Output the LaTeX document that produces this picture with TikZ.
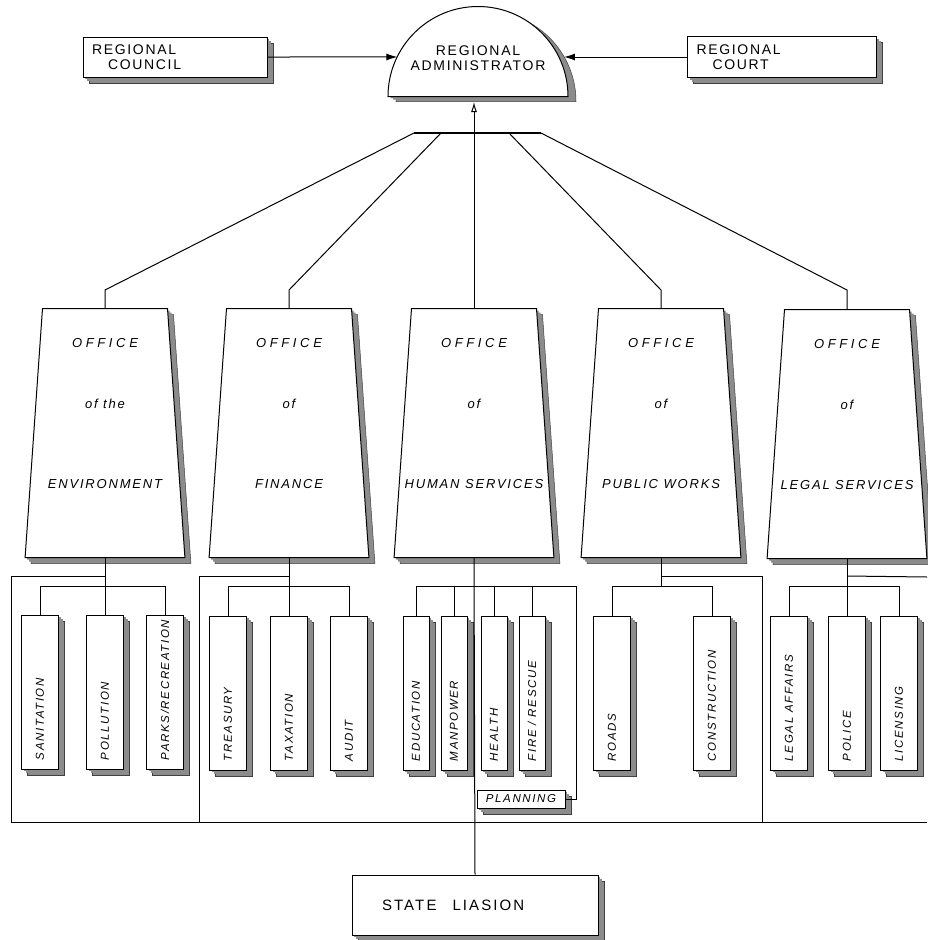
\documentclass[tikz,border=0pt]{standalone}
\usepackage{fontspec}
\usepackage{tikz}
\usetikzlibrary{arrows.meta,positioning,calc,shapes.geometric,shadows}
\newfontfamily\letra[LetterSpace=12]{Liberation Sans}
\newfontfamily\letraesp[LetterSpace=28]{Liberation Sans}
\newfontfamily\letramed[LetterSpace=14]{Liberation Sans}
\newfontfamily\letrasetor[LetterSpace=14]{Liberation Sans}

\begin{document}
\begin{tikzpicture}[x=1pt, y=-1pt, line width=1pt,
sombra/.style={general shadow={fill=black!45, draw=black!75, line width=0.5pt, shadow xshift=6pt, shadow yshift=-6pt}, general shadow={fill=black!45, draw=none, shadow xshift=4pt, shadow yshift=-4pt}, general shadow={fill=black!45, draw=none, shadow xshift=2pt, shadow yshift=-2pt}},
caixa/.style={draw, fill=white, sombra, align=left, inner xsep=9pt, font=\letra\fontsize{14}{15}\selectfont},
cupula/.style={shape=semicircle, draw, fill=white, minimum width=180pt, inner sep=0pt, general shadow={fill=black!45, draw=black!75, line width=0.5pt, shadow xshift=8pt, shadow yshift=-5pt}, general shadow={fill=black!45, draw=none, shadow xshift=5pt, shadow yshift=-3pt}, general shadow={fill=black!45, draw=none, shadow xshift=2.5pt, shadow yshift=-1.5pt}},
escritorio/.style={shape=trapezium, trapezium left angle=86, trapezium right angle=86, inner xsep=62.5pt, inner ysep=0pt, draw, fill=white, sombra},
titulo/.style={font=\letraesp\itshape\fontsize{13}{15}\selectfont},
rotulo/.style={font=\letramed\itshape\fontsize{13}{15}\selectfont},
setor/.style={draw, fill=white, sombra, minimum width=37pt, minimum height=154pt, inner sep=0pt},
estreito/.style={setor, minimum width=26pt},
nome/.style={rotate=90, anchor=west, inner sep=1pt, font=\letrasetor\itshape\fontsize{11.5}{13}\selectfont},
seta/.style={-{Latex[length=11pt, width=7pt]}},
seta aberta/.style={-{Latex[open, length=10pt, width=6pt]}},
barra/.style={line width=2pt}
]
\useasboundingbox (0,0) rectangle (927,940);

% topo
\node[caixa, text width=166pt, minimum height=40pt] (conselho) at (175,57) {REGIONAL\\\hspace*{16pt}COUNCIL};
\node[cupula, anchor=chord center] (administrador) at (478,97) {};
\node[align=center, font=\letra\fontsize{14}{15}\selectfont] (administrador-t) at (478,58) {REGIONAL\\ADMINISTRATOR};
\node[caixa, text width=171pt, minimum height=41pt] (tribunal) at (782,57) {REGIONAL\\\hspace*{16pt}COURT};
\coordinate (administrador-base) at ([yshift=-5pt]administrador.chord center);

\draw[seta] (conselho.east) -- ($(administrador.chord center)+(153.6:90pt)$);
\draw[seta] (tribunal.west) -- ($(administrador.chord center)+(8pt,-5pt)+(30:90pt)$);

% escritorios
\node[escritorio] (ambiente) at (105,433) {\rule{0pt}{249pt}};
\node[titulo] (ambiente-1) at ([yshift=-35pt]ambiente.north) {OFFICE};
\node[rotulo] (ambiente-2) at ([yshift=-96pt]ambiente.north) {of the};
\node[rotulo] (ambiente-3) at ([yshift=-176pt]ambiente.north) {ENVIRONMENT};

\node[escritorio] (financas) at (289,433) {\rule{0pt}{249pt}};
\node[titulo] (financas-1) at ([yshift=-35pt]financas.north) {OFFICE};
\node[rotulo] (financas-2) at ([yshift=-96pt]financas.north) {of};
\node[rotulo] (financas-3) at ([yshift=-176pt]financas.north) {FINANCE};

\node[escritorio] (humanos) at (474,433) {\rule{0pt}{249pt}};
\node[titulo] (humanos-1) at ([yshift=-35pt]humanos.north) {OFFICE};
\node[rotulo] (humanos-2) at ([yshift=-96pt]humanos.north) {of};
\node[rotulo] (humanos-3) at ([yshift=-176pt]humanos.north) {HUMAN SERVICES};

\node[escritorio] (obras) at (661,433) {\rule{0pt}{249pt}};
\node[titulo] (obras-1) at ([yshift=-35pt]obras.north) {OFFICE};
\node[rotulo] (obras-2) at ([yshift=-96pt]obras.north) {of};
\node[rotulo] (obras-3) at ([yshift=-176pt]obras.north) {PUBLIC WORKS};

\node[escritorio] (juridico) at (847,434) {\rule{0pt}{249pt}};
\node[titulo] (juridico-1) at ([yshift=-35pt]juridico.north) {OFFICE};
\node[rotulo] (juridico-2) at ([yshift=-96pt]juridico.north) {of};
\node[rotulo] (juridico-3) at ([yshift=-176pt]juridico.north) {LEGAL SERVICES};

% barra de ligacao ao administrador
\coordinate (barra-a) at (414,133);
\coordinate (barra-b) at (441,133);
\coordinate (barra-d) at (509,133);
\coordinate (barra-e) at (541,133);
\coordinate (dobra) at (0,290);
\draw[barra] (barra-a) -- (barra-e);
\draw (barra-a) -- (ambiente.north |- dobra) -- (ambiente.north);
\draw (barra-b) -- (financas.north |- dobra) -- (financas.north);
\draw (barra-d) -- (obras.north |- dobra) -- (obras.north);
\draw (barra-e) -- (juridico.north |- dobra) -- (juridico.north);
\draw[seta aberta] (humanos.north) -- (humanos.north |- administrador-base);

% setores
\node[setor] (saneamento) at (40,692) {};
\node[nome] (saneamento-t) at ([yshift=8pt]saneamento.south) {SANITATION};
\node[setor] (poluicao) at (105,692) {};
\node[nome] (poluicao-t) at ([yshift=8pt]poluicao.south) {POLLUTION};
\node[setor] (parques) at (165,692) {};
\node[nome] (parques-t) at ([yshift=8pt]parques.south) {PARKS/RECREATION};

\node[setor] (tesouro) at (228,693) {};
\node[nome] (tesouro-t) at ([yshift=8pt]tesouro.south) {TREASURY};
\node[setor] (tributos) at (289,693) {};
\node[nome] (tributos-t) at ([yshift=8pt]tributos.south) {TAXATION};
\node[setor] (auditoria) at (349,693) {};
\node[nome] (auditoria-t) at ([yshift=8pt]auditoria.south) {AUDIT};

\node[estreito] (educacao) at (416,693) {};
\node[nome] (educacao-t) at ([yshift=8pt]educacao.south) {EDUCATION};
\node[estreito] (maodeobra) at (454,693) {};
\node[nome] (maodeobra-t) at ([yshift=8pt]maodeobra.south) {MANPOWER};
\node[estreito] (saude) at (494,693) {};
\node[nome] (saude-t) at ([yshift=8pt]saude.south) {HEALTH};
\node[estreito] (resgate) at (532,693) {};
\node[nome] (resgate-t) at ([yshift=8pt]resgate.south) {FIRE / RESCUE};
\node[draw, fill=white, sombra, minimum width=88pt, minimum height=18pt, inner sep=0pt, font=\letrasetor\itshape\fontsize{11.5}{12}\selectfont] (planejamento) at (521,799) {PLANNING};

\node[setor] (estradas) at (612,693) {};
\node[nome] (estradas-t) at ([yshift=8pt]estradas.south) {ROADS};
\node[setor] (construcao) at (712,693) {};
\node[nome] (construcao-t) at ([yshift=8pt]construcao.south) {CONSTRUCTION};

\node[setor] (assuntos) at (789,693) {};
\node[nome] (assuntos-t) at ([yshift=8pt]assuntos.south) {LEGAL AFFAIRS};
\node[setor] (policia) at (847,693) {};
\node[nome] (policia-t) at ([yshift=8pt]policia.south) {POLICE};
\node[setor] (licencas) at (899,693) {};
\node[nome] (licencas-t) at ([yshift=8pt]licencas.south) {LICENSING};

\node[caixa, text width=186pt, inner xsep=30pt, minimum height=60pt, font=\letramed\fontsize{15}{17}\selectfont] (ligacao) at (475,905) {STATE\hspace{16pt}LIASION};

% ramos e molduras
\coordinate (ramo) at (0,586);
\coordinate (moldura) at (0,576);
\coordinate (base-a) at (11,822);
\coordinate (base-b) at (199,822);
\coordinate (base-d) at (762,822);
\coordinate (base-f) at (927,822);
\coordinate (borda) at (927,577);
\coordinate (canto-h) at (576,586);

\draw (ambiente.south) -- (poluicao.north);
\draw (saneamento.north) |- (parques.north |- ramo) -- (parques.north);
\draw (ambiente.south |- moldura) -| (base-a) -- (base-f);

\draw (financas.south) -- (tributos.north);
\draw (tesouro.north) |- (auditoria.north |- ramo) -- (auditoria.north);
\draw (financas.south |- moldura) -| (base-b);

\draw (humanos.south) -- (ligacao.north);
\draw (educacao.north) |- (canto-h) |- (planejamento.east);
\draw (maodeobra.north) -- (maodeobra.north |- ramo);
\draw (saude.north) -- (saude.north |- ramo);
\draw (resgate.north) -- (resgate.north |- ramo);

\draw (obras.south) -- (obras.south |- ramo);
\draw (estradas.north) |- (construcao.north |- ramo) -- (construcao.north);
\draw (obras.south |- moldura) -| (base-d);

\draw (juridico.south) -- (policia.north);
\draw (assuntos.north) |- (licencas.north |- ramo) -- (licencas.north);
\draw (juridico.south |- moldura) -- (borda);
\end{tikzpicture}
\end{document}
